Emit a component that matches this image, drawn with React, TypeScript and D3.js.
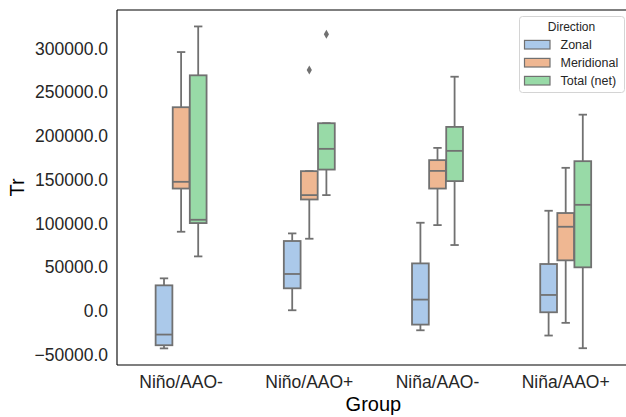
import React from "react";
import * as d3 from "d3";

// groups on the x axis and the hue levels
const groups = ["Niño/AAO-", "Niño/AAO+", "Niña/AAO-", "Niña/AAO+"];
const directions = ["Zonal", "Meridional", "Total (net)"];

// box stats per group: [whiskerLow, q1, median, q3, whiskerHigh]
const zonal = [
  [-43000, -39400, -27200, 29100, 37100],
  [600, 25700, 42100, 79800, 88500],
  [-22300, -15800, 12800, 54200, 100700],
  [-28300, -1700, 18100, 53500, 114400],
];
const meridional = [
  [90400, 139800, 147500, 232800, 295900],
  [82400, 127300, 132300, 159700, 159700],
  [98000, 139800, 160000, 172300, 186300],
  [-13800, 57700, 96100, 111800, 163500],
];
const totalNet = [
  [62200, 100300, 104100, 269300, 325200],
  [132300, 161500, 185200, 214500, 214500],
  [75200, 148300, 182900, 210300, 267700],
  [-42800, 49700, 121200, 171100, 224300],
];
// outliers: [groupIndex, directionIndex, value]
const outliers = [
  [1, 1, 275300],
  [1, 2, 316400],
];

const yTicks = [-50000, 0, 50000, 100000, 150000, 200000, 250000, 300000];

const colors = ["#abc9ea", "#efb792", "#98daa7"];
const gray = "#717171";

const W = 626, H = 417;
const margin = { left: 117, top: 10, bottom: 365 };
const plotRight = 629.8;

export default function App() {
  const series = [zonal, meridional, totalNet];

  const x = d3.scaleBand().domain(groups).range([margin.left, plotRight]).paddingInner(0).paddingOuter(0);
  const bw = x.bandwidth();
  const hue = d3.scaleBand().domain(directions).range([-bw * 0.2, bw * 0.2]);
  const boxW = hue.bandwidth() * 0.98;
  const y = d3.scaleLinear().domain([-62000, 344000]).range([margin.bottom, margin.top]);
  const fmt = (d: number) => d3.format(".1f")(d);

  const font = "'Liberation Sans', Arial, sans-serif";

  return (
    <svg width={W} height={H} style={{ position: "fixed", left: 0, top: 0 }} fontFamily={font}>
      <rect x={0} y={0} width={W} height={H} fill="#fff" />

      {series.map((s, hi) =>
        s.map((st, gi) => {
          const cx = (x(groups[gi]) as number) + bw / 2 + (hue(directions[hi]) as number) + hue.bandwidth() / 2;
          const [lo, q1, med, q3, hiW] = st;
          const capW = boxW / 2;
          return (
            <g key={`${hi}-${gi}`} stroke={gray} strokeWidth={1.8}>
              <line x1={cx} x2={cx} y1={y(q3)} y2={y(hiW)} />
              <line x1={cx} x2={cx} y1={y(q1)} y2={y(lo)} />
              <line x1={cx - capW / 2} x2={cx + capW / 2} y1={y(hiW)} y2={y(hiW)} />
              <line x1={cx - capW / 2} x2={cx + capW / 2} y1={y(lo)} y2={y(lo)} />
              <rect x={cx - boxW / 2} y={y(q3)} width={boxW} height={y(q1) - y(q3)} fill={colors[hi]} />
              <line x1={cx - boxW / 2} x2={cx + boxW / 2} y1={y(med)} y2={y(med)} />
            </g>
          );
        })
      )}

      {outliers.map(([gi, hi, v], i) => {
        const cx = (x(groups[gi]) as number) + bw / 2 + (hue(directions[hi]) as number) + hue.bandwidth() / 2;
        const cy = y(v);
        return (
          <path key={i} d={`M${cx},${cy - 4.5}L${cx + 2.6},${cy}L${cx},${cy + 4.5}L${cx - 2.6},${cy}Z`} fill={gray} />
        );
      })}

      {/* spines */}
      <g stroke="#000" strokeWidth={1.1} fill="none">
        <line x1={margin.left} x2={margin.left} y1={margin.top} y2={margin.bottom} />
        <line x1={margin.left} x2={W} y1={margin.bottom} y2={margin.bottom} />
        <line x1={margin.left} x2={W} y1={margin.top} y2={margin.top} />
      </g>

      {yTicks.map((t) => (
        <text key={t} x={margin.left - 9} y={y(t)} dy="0.36em" textAnchor="end" fontSize={17.5} fill="#262626">
          {fmt(t)}
        </text>
      ))}
      {groups.map((g) => (
        <text key={g} x={(x(g) as number) + bw / 2} y={388} textAnchor="middle" fontSize={17.5} fill="#262626">
          {g}
        </text>
      ))}

      <text x={(margin.left + plotRight) / 2} y={411} textAnchor="middle" fontSize={20} fill="#000">Group</text>
      <text transform={`translate(24,${(margin.top + margin.bottom) / 2}) rotate(-90)`} textAnchor="middle" fontSize={20} fill="#000">Tr</text>

      {/* legend */}
      <g>
        <rect x={519.5} y={16.5} width={105} height={76} rx={3} fill="#fff" fillOpacity={0.85} stroke="#d4d4d4" strokeWidth={1} />
        <text x={571.5} y={31} textAnchor="middle" fontSize={12} fill="#262626">Direction</text>
        {directions.map((d, i) => (
          <g key={d} transform={`translate(0,${44.7 + i * 18})`}>
            <rect x={524.5} y={-4.3} width={25.5} height={8.6} fill={colors[i]} stroke={gray} strokeWidth={1.2} />
            <text x={560.5} y={0} dy="0.36em" fontSize={12.5} fill="#262626">{d}</text>
          </g>
        ))}
      </g>
    </svg>
  );
}
